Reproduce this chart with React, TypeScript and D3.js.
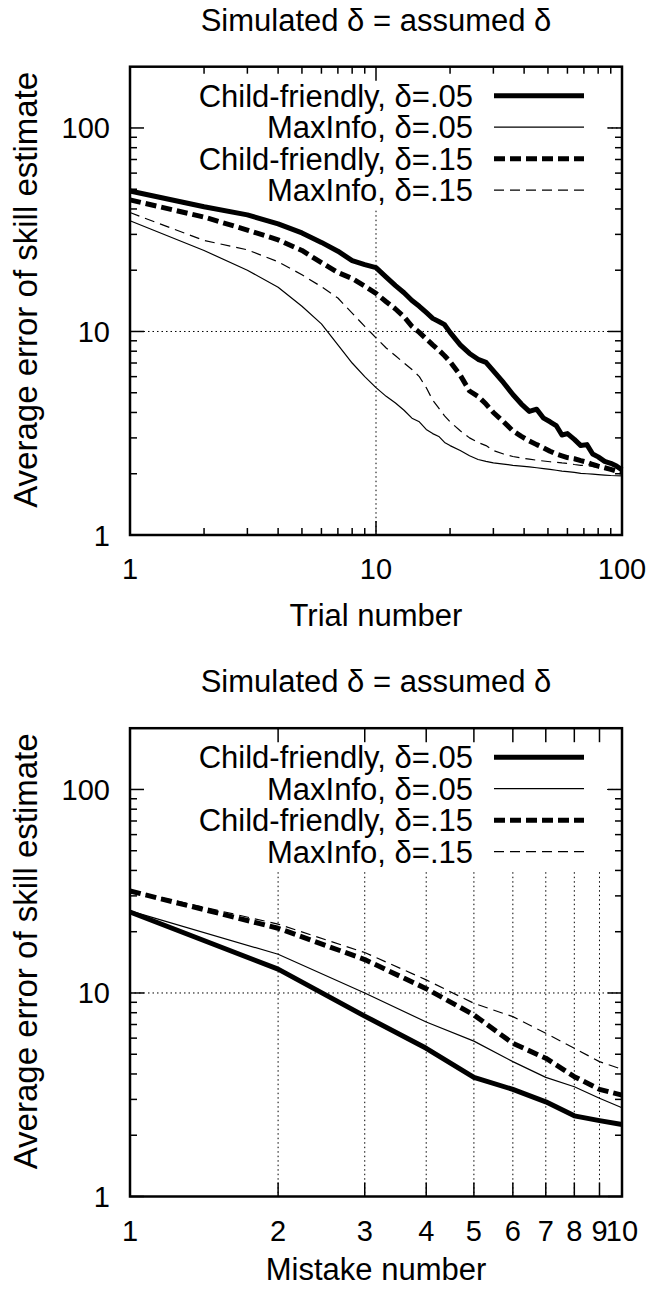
import React from 'react';
import * as d3 from 'd3';

// ---------- data ----------
const seriesNames = [
  'Child-friendly, δ=.05',
  'MaxInfo, δ=.05',
  'Child-friendly, δ=.15',
  'MaxInfo, δ=.15',
];

const trials = [1, 2, 3, 4, 5, 6, 7, 8, 9, 10, 11, 12, 13, 14, 15, 16, 17, 18, 19, 20, 22, 24, 26, 28, 30, 33, 36, 39, 42, 45, 48, 51, 54, 57, 60, 64, 68, 72, 76, 80, 85, 90, 95, 100];
const trialCF05 = [49, 41, 37.4, 33.8, 30.5, 27.4, 24.8, 22.3, 21.3, 20.6, 18.5, 16.8, 15.5, 14.2, 13.3, 12.4, 11.6, 11.2, 10.8, 9.9, 8.6, 7.8, 7.3, 7.05, 6.4, 5.6, 4.9, 4.4, 4.05, 4.15, 3.75, 3.6, 3.45, 3.1, 3.15, 2.95, 2.75, 2.78, 2.5, 2.42, 2.3, 2.25, 2.18, 2.09];
const trialMI05 = [35, 25, 20, 16.5, 13.3, 10.9, 8.6, 7.0, 6.0, 5.3, 4.8, 4.45, 4.1, 3.75, 3.6, 3.3, 3.15, 3.05, 2.85, 2.75, 2.6, 2.45, 2.35, 2.3, 2.26, 2.23, 2.2, 2.18, 2.16, 2.14, 2.12, 2.1, 2.08, 2.06, 2.05, 2.03, 2.01, 2.0, 1.99, 1.98, 1.97, 1.96, 1.955, 1.95];
const trialCF15 = [44.3, 36.5, 31.5, 28.2, 25, 21.8, 19.5, 18.2, 16.7, 15.4, 14, 12.9, 11.8, 10.6, 9.9, 9.2, 8.6, 8.1, 7.6, 7.1, 6.1, 5.1, 4.8, 4.4, 4.0, 3.6, 3.25, 3.05, 2.9, 2.78, 2.68, 2.58, 2.5, 2.45, 2.4, 2.37, 2.32, 2.28, 2.22, 2.18, 2.14, 2.1, 2.06, 2.03];
const trialMI15 = [38.4, 28, 25.2, 22, 19, 16.6, 14.6, 12.3, 10.6, 9.3, 8.3, 7.6, 7.0, 6.5, 6.0, 5.3, 4.6, 4.2, 3.85, 3.6, 3.25, 3.0, 2.85, 2.75, 2.6, 2.5, 2.43, 2.39, 2.36, 2.33, 2.31, 2.29, 2.28, 2.26, 2.25, 2.22, 2.2, 2.19, 2.17, 2.15, 2.13, 2.12, 2.1, 2.09];

const mistakes = [1, 2, 3, 4, 5, 6, 7, 8, 9, 10];
const mistakeCF05 = [25.0, 13.1, 7.7, 5.35, 3.85, 3.36, 2.92, 2.49, 2.36, 2.26];
const mistakeMI05 = [25.3, 15.5, 10.0, 7.2, 5.8, 4.6, 3.85, 3.46, 3.04, 2.73];
const mistakeCF15 = [31.7, 20.8, 14.6, 10.5, 7.8, 5.66, 4.78, 3.88, 3.36, 3.15];
const mistakeMI15 = [31.9, 21.8, 15.8, 11.6, 8.9, 7.65, 6.34, 5.35, 4.6, 4.22];

const yTicks = [1, 10, 100];
const yTickLabels = ['1', '10', '100'];
const trialTicks = [1, 10, 100];
const trialTickLabels = ['1', '10', '100'];
const mistakeTickLabels = ['1', '2', '3', '4', '5', '6', '7', '8', '9', '10'];

const panelTitle = 'Simulated δ = assumed δ';
const yTitle = 'Average error of skill estimate';

// ---------- styles ----------
const FONT = '"Liberation Sans", Arial, Helvetica, sans-serif';
const FS = 31;
const FS_TICK = 29;
const FS_YLAB = 33;
const lineStyles = [
  { w: 5, dash: undefined as string | undefined },
  { w: 1.2, dash: undefined as string | undefined },
  { w: 5, dash: '11,5' },
  { w: 1.2, dash: '10,6' },
];

const X0 = 130;
const X1 = 622;

function minorLog(maxV: number) {
  const out: number[] = [];
  for (let d = 1; d < maxV; d *= 10) {
    for (let k = 2; k <= 9; k++) {
      const v = d * k;
      if (v < maxV) out.push(v);
    }
  }
  return out;
}

type PanelProps = {
  top: number;
  bottom: number;
  xs: number[];
  series: number[][];
  xDomain: [number, number];
  xMajor: number[];
  xMajorLabels: string[];
  xMinor: number[];
  xGrid: number[];
  xTitle: string;
  xTitleOffset: number;
};

function Panel(p: PanelProps) {
  const x = d3.scaleLog().domain(p.xDomain).range([X0, X1]);
  const y = d3.scaleLog().domain([1, 200]).range([p.bottom, p.top]);
  const line = d3
    .line<[number, number]>()
    .x((d) => x(d[0]))
    .y((d) => y(d[1]));

  const yMinor = minorLog(200);
  const major = 14;
  const minor = 7;
  const gridY = [10, 100];
  const midY = (p.top + p.bottom) / 2;

  return (
    <g>
      <text x={(X0 + X1) / 2} y={p.top - 36} textAnchor="middle" fontSize={FS} fontFamily={FONT}>
        {panelTitle}
      </text>
      {/* grid */}
      <g stroke="#000" strokeWidth={1} strokeDasharray="1.5,3">
        {gridY.map((v) => (
          <line key={'gy' + v} x1={X0} x2={X1} y1={y(v)} y2={y(v)} />
        ))}
        {p.xGrid.map((v) => (
          <line key={'gx' + v} x1={x(v)} x2={x(v)} y1={p.top} y2={p.bottom} />
        ))}
      </g>
      {/* opaque key box */}
      <rect x={X0 + 2} y={p.top + 2} width={472} height={140} fill="#fff" />
      {/* ticks */}
      <g stroke="#000" strokeWidth={1.5}>
        {yTicks.map((v) => (
          <g key={'yt' + v}>
            <line x1={X0} x2={X0 + major} y1={y(v)} y2={y(v)} />
            <line x1={X1} x2={X1 - major} y1={y(v)} y2={y(v)} />
          </g>
        ))}
        {yMinor.map((v) => (
          <g key={'ym' + v}>
            <line x1={X0} x2={X0 + minor} y1={y(v)} y2={y(v)} />
            <line x1={X1} x2={X1 - minor} y1={y(v)} y2={y(v)} />
          </g>
        ))}
        {p.xMajor.map((v) => (
          <g key={'xt' + v}>
            <line x1={x(v)} x2={x(v)} y1={p.bottom} y2={p.bottom - major} />
            <line x1={x(v)} x2={x(v)} y1={p.top} y2={p.top + major} />
          </g>
        ))}
        {p.xMinor.map((v) => (
          <g key={'xm' + v}>
            <line x1={x(v)} x2={x(v)} y1={p.bottom} y2={p.bottom - minor} />
            <line x1={x(v)} x2={x(v)} y1={p.top} y2={p.top + minor} />
          </g>
        ))}
      </g>
      {/* curves */}
      {p.series.map((vals, i) => (
        <path
          key={'s' + i}
          d={line(p.xs.map((xv, j) => [xv, vals[j]] as [number, number])) || ''}
          fill="none"
          stroke="#000"
          strokeWidth={lineStyles[i].w}
          strokeDasharray={lineStyles[i].dash}
          strokeLinejoin="round"
        />
      ))}
      {/* legend */}
      {seriesNames.map((name, i) => {
        const ry = p.top + 29 + 31.5 * i;
        return (
          <g key={'lg' + i}>
            <text x={473} y={ry + 11} textAnchor="end" fontSize={FS} fontFamily={FONT}>
              {name}
            </text>
            <line
              x1={494}
              x2={584}
              y1={ry}
              y2={ry}
              stroke="#000"
              strokeWidth={lineStyles[i].w}
              strokeDasharray={lineStyles[i].dash}
            />
          </g>
        );
      })}
      {/* frame */}
      <rect x={X0} y={p.top} width={X1 - X0} height={p.bottom - p.top} fill="none" stroke="#000" strokeWidth={2.5} />
      {/* y tick labels */}
      {yTicks.map((v, i) => (
        <text key={'yl' + v} x={110} y={y(v) + 10.5} textAnchor="end" fontSize={FS_TICK} fontFamily={FONT}>
          {yTickLabels[i]}
        </text>
      ))}
      {/* x tick labels */}
      {p.xMajor.map((v, i) => (
        <text key={'xl' + v} x={x(v)} y={p.bottom + 44} textAnchor="middle" fontSize={FS_TICK} fontFamily={FONT}>
          {p.xMajorLabels[i]}
        </text>
      ))}
      <text x={(X0 + X1) / 2} y={p.bottom + p.xTitleOffset} textAnchor="middle" fontSize={FS} fontFamily={FONT}>
        {p.xTitle}
      </text>
      <text
        transform={`translate(37,${midY - 11}) rotate(-90)`}
        textAnchor="middle"
        fontSize={FS_YLAB}
        fontFamily={FONT}
      >
        {yTitle}
      </text>
    </g>
  );
}

export default function App() {
  return (
    <svg
      width={655}
      height={1292}
      viewBox="0 0 655 1292"
      style={{ position: 'absolute', left: 0, top: 0, display: 'block', background: '#fff' }}
    >
      <rect x={0} y={0} width={655} height={1292} fill="#fff" />
      <Panel
        top={66.7}
        bottom={535}
        xs={trials}
        series={[trialCF05, trialMI05, trialCF15, trialMI15]}
        xDomain={[1, 100]}
        xMajor={trialTicks}
        xMajorLabels={trialTickLabels}
        xMinor={minorLog(100)}
        xGrid={[10]}
        xTitle="Trial number"
        xTitleOffset={91}
      />
      <Panel
        top={728.2}
        bottom={1196.5}
        xs={mistakes}
        series={[mistakeCF05, mistakeMI05, mistakeCF15, mistakeMI15]}
        xDomain={[1, 10]}
        xMajor={mistakes}
        xMajorLabels={mistakeTickLabels}
        xMinor={[]}
        xGrid={mistakes.slice(1, 9)}
        xTitle="Mistake number"
        xTitleOffset={83}
      />
    </svg>
  );
}
